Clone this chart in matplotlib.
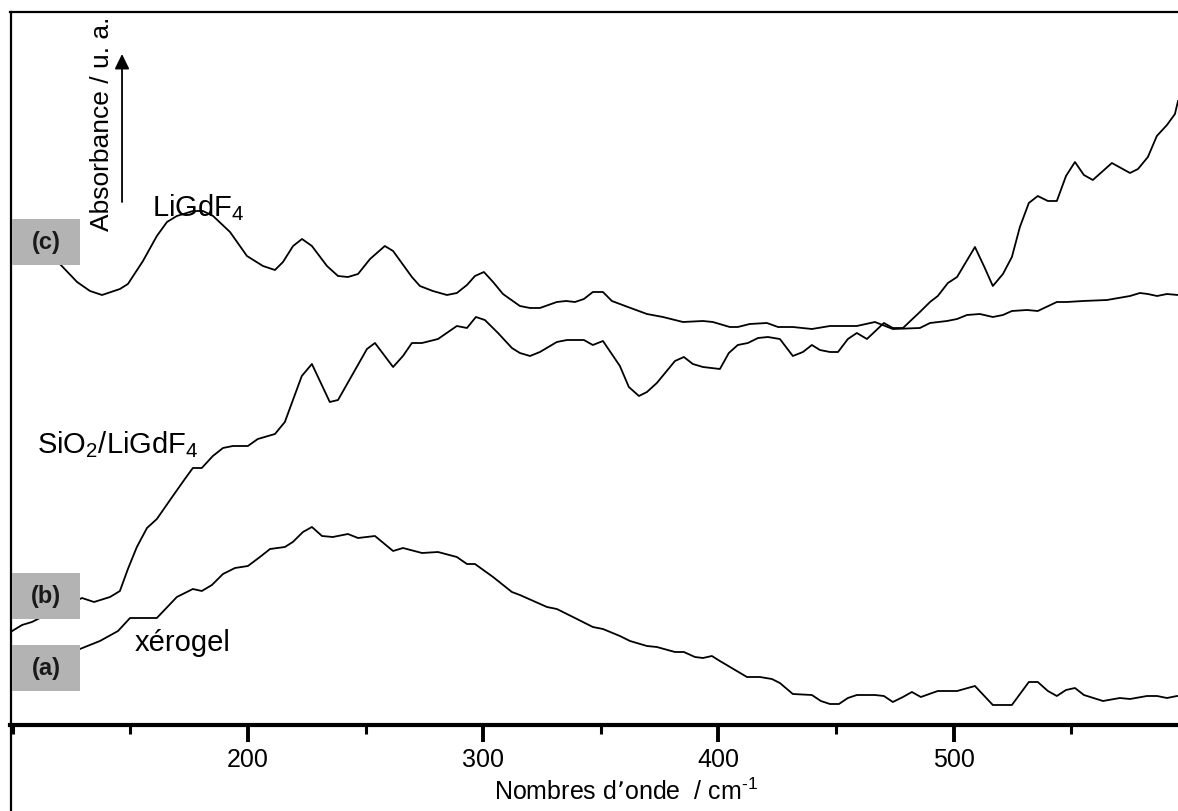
import numpy as np
import matplotlib
matplotlib.use("Agg")
import matplotlib.pyplot as plt
from matplotlib.patches import Rectangle
from matplotlib.lines import Line2D

plt.rcParams['font.family'] = ['Liberation Sans', 'DejaVu Sans']
plt.rcParams['mathtext.default'] = 'regular'

# (c) LiGdF4
wn_c = [100, 111.6, 120.5, 127.4, 132.9, 138.0, 145.6, 149.0, 155.4, 161.3, 165.6, 169.8,
        176.7, 180.9, 185.2, 192.4,
        199.6, 206.4, 211.5, 214.9, 219.2, 223.0, 227.2, 233.6, 238.3, 242.5, 246.8, 251.9,
        258.2, 261.7, 269.7, 273.1, 278.6, 284.6, 288.8, 293.1, 296.5, 300.3, 304.2, 308.4,
        315.6, 319.9, 324.1, 331.3, 335.2, 339.0, 342.8, 346.6, 350.9, 354.7, 361.5, 369.6,
        376.4, 384.9, 393.4, 397.6, 404.8, 408.2, 413.3, 420.6, 425.3, 431.6, 439.7, 447.4,
        458.8, 466.5, 474.1, 485.6, 489.9, 497.1, 501.4, 505.6, 511.1, 516.6, 520.9, 524.7,
        531.1, 535.7, 543.8, 548.1, 554.9, 565.1, 574.9, 579.1, 582.5, 586.4, 590.6, 595.3]
abs_c = [.498, .476, .460, .443, .434, .430, .436, .441, .464, .489, .503, .509,
         .514, .514, .509, .493,
         .469, .459, .455, .463, .479, .486, .479, .459, .449, .448, .451, .466,
         .479, .474, .448, .439, .434, .430, .432, .440, .449, .453, .443, .431,
         .419, .417, .417, .423, .424, .423, .426, .433, .433, .424, .418, .411,
         .408, .403, .404, .403, .398, .398, .401, .402, .398, .398, .396, .399,
         .399, .403, .396, .397, .402, .404, .406, .410, .411, .408, .410, .414,
         .415, .414, .423, .423, .424, .425, .429, .432, .431, .429, .431, .430]

# (b) SiO2/LiGdF4
wn_b = [99.1, 104.0, 108.2, 111.6, 129.5, 134.6, 141.4, 145.6, 149.0, 152.8, 157.1, 161.3,
        168.1, 173.2, 176.6, 180.4, 185.1, 189.4, 193.6, 200.0, 204.2, 211.5, 215.7, 222.9,
        227.2, 234.8, 238.3, 250.6, 254.0, 261.7, 265.9, 269.7, 274.0, 280.8, 288.8, 293.1,
        296.9, 300.7, 306.3, 312.2, 315.6, 319.9, 324.1, 331.3, 335.6, 342.8, 346.6, 350.9,
        358.1, 361.9, 366.2, 369.6, 373.8, 381.5, 385.3, 389.1, 393.4, 400.6, 404.4, 408.2,
        412.5, 416.8, 421.0, 426.1, 431.6, 435.9, 439.7, 443.1, 447.4, 450.8, 455.0, 458.8,
        463.1, 470.3, 474.1, 478.4, 485.6, 489.9, 493.2, 497.5, 501.4, 509.0, 512.8, 516.6,
        520.9, 524.7, 528.1, 531.9, 535.7, 540.0, 543.8, 547.7, 551.5, 555.3, 559.1, 567.2,
        574.9, 578.3, 582.5, 586.3, 590.6, 594.0, 595.3]
abs_b = [.093, .100, .103, .107, .127, .123, .128, .134, .156, .178, .197, .206,
         .229, .246, .257, .257, .269, .277, .279, .279, .286, .291, .303, .349,
         .361, .323, .325, .376, .382, .358, .369, .382, .382, .386, .399, .397,
         .408, .405, .392, .377, .372, .369, .373, .383, .385, .385, .380, .384,
         .359, .338, .329, .333, .342, .364, .368, .361, .358, .356, .372, .380,
         .382, .387, .388, .386, .369, .373, .380, .375, .373, .373, .386, .392,
         .386, .402, .397, .397, .413, .423, .429, .442, .448, .478, .459, .439,
         .451, .468, .498, .522, .529, .524, .524, .549, .563, .550, .545, .562,
         .552, .556, .568, .589, .600, .611, .624]

# (a) xerogel
wn_a = [99.1, 128.6, 137.1, 144.8, 149.9, 161.3, 169.8, 176.6, 180.4, 184.7, 189.4, 194.5,
        200.0, 205.1, 209.4, 215.7, 219.1, 223.4, 227.2, 231.5, 236.1, 242.5, 246.8, 254.0,
        261.7, 265.9, 274.0, 280.8, 288.8, 293.1, 296.5, 304.2, 312.2, 315.6, 327.1, 331.3,
        339.0, 346.6, 350.9, 358.1, 362.4, 369.6, 373.8, 381.5, 385.3, 390.0, 393.4, 397.2,
        400.6, 412.1, 417.6, 422.7, 426.1, 431.6, 439.7, 443.5, 447.4, 451.2, 455.0, 458.8,
        466.5, 470.3, 474.1, 478.4, 482.2, 486.0, 493.2, 501.4, 509.0, 516.6, 524.7, 531.9,
        535.7, 540.0, 543.8, 547.7, 551.5, 555.3, 563.4, 570.6, 574.9, 582.1, 586.4, 590.6,
        594.9]
abs_a = [.055, .076, .084, .094, .107, .107, .128, .136, .134, .140, .151, .157,
         .159, .168, .176, .178, .183, .193, .198, .189, .188, .191, .187, .189,
         .174, .177, .172, .173, .168, .161, .161, .148, .133, .130, .118, .116,
         .107, .098, .096, .089, .084, .079, .078, .073, .073, .068, .067, .069,
         .064, .048, .048, .046, .042, .031, .030, .024, .021, .021, .027, .030,
         .030, .029, .023, .028, .033, .028, .034, .034, .039, .020, .020, .043,
         .043, .034, .029, .035, .037, .030, .024, .027, .026, .029, .029, .027,
         .029]

major_ticks = [200, 300, 400, 500]
minor_ticks = [100, 150, 250, 350, 450, 550]

box_labels = ['(c)', '(b)', '(a)']
box_bottoms = [.460, .106, .034]

fig = plt.figure(figsize=(11.78, 8.12), dpi=100)
ax = fig.add_axes([10.5 / 1178, 86 / 812, 1 - 10.5 / 1178, 713 / 812])

for wn, ab in [(wn_c, abs_c), (wn_b, abs_b), (wn_a, abs_a)]:
    ax.plot(wn, ab, color='black', lw=1.3, zorder=2)

ax.set_xlim(99.1, 595.3)
ax.set_ylim(0, 0.713)

# grey boxes with curve letters
for lab, y0 in zip(box_labels, box_bottoms):
    ax.add_patch(Rectangle((99.8, y0), 29.0, 0.046, facecolor='#b3b3b3',
                           edgecolor='none', zorder=3))
    ax.text(114.3, y0 + 0.023, lab, ha='center', va='center', fontsize=17,
            fontweight='bold', color='#1a1a1a', zorder=4)

ax.text(159.2, .510, 'LiGdF$_4$', fontsize=21, ha='left', va='baseline')
ax.text(110.3, .273, 'SiO$_2$/LiGdF$_4$', fontsize=21, ha='left', va='baseline')
ax.text(152.0, .075, 'xérogel', fontsize=21, ha='left', va='baseline')

# y label with arrow
ax.text(138.0, .602, 'Absorbance / u. a.', rotation=90, fontsize=19,
        ha='center', va='center')
ax.annotate('', xy=(146.5, .671), xytext=(146.5, .523),
            arrowprops=dict(arrowstyle='-|>,head_length=0.45,head_width=0.22',
                            mutation_scale=20, lw=1.3, color='black',
                            shrinkA=0, shrinkB=0))

ax.set_xticks(major_ticks)
ax.set_xticks(minor_ticks, minor=True)
ax.set_yticks([])
ax.tick_params(axis='x', which='major', direction='out', length=12, width=2.8,
               labelsize=18, pad=4)
ax.tick_params(axis='x', which='minor', direction='out', length=6.5, width=2.2)

ax.set_xlabel('Nombres d’onde  / cm$^{\u2010 1}$', fontsize=18)
ax.xaxis.set_label_coords(0.527, -0.092)
ax.xaxis.label.set_verticalalignment('center')

ax.spines['right'].set_visible(False)
ax.spines['top'].set_linewidth(1.6)
ax.spines['left'].set_linewidth(1.6)
ax.spines['bottom'].set_linewidth(3.0)

# the frame's left edge runs on to the bottom of the picture
fig.add_artist(Line2D([10.5 / 1178, 10.5 / 1178], [0, 86 / 812], color='black',
                      lw=1.6, transform=fig.transFigure))

fig.savefig('out.png', dpi=100)
